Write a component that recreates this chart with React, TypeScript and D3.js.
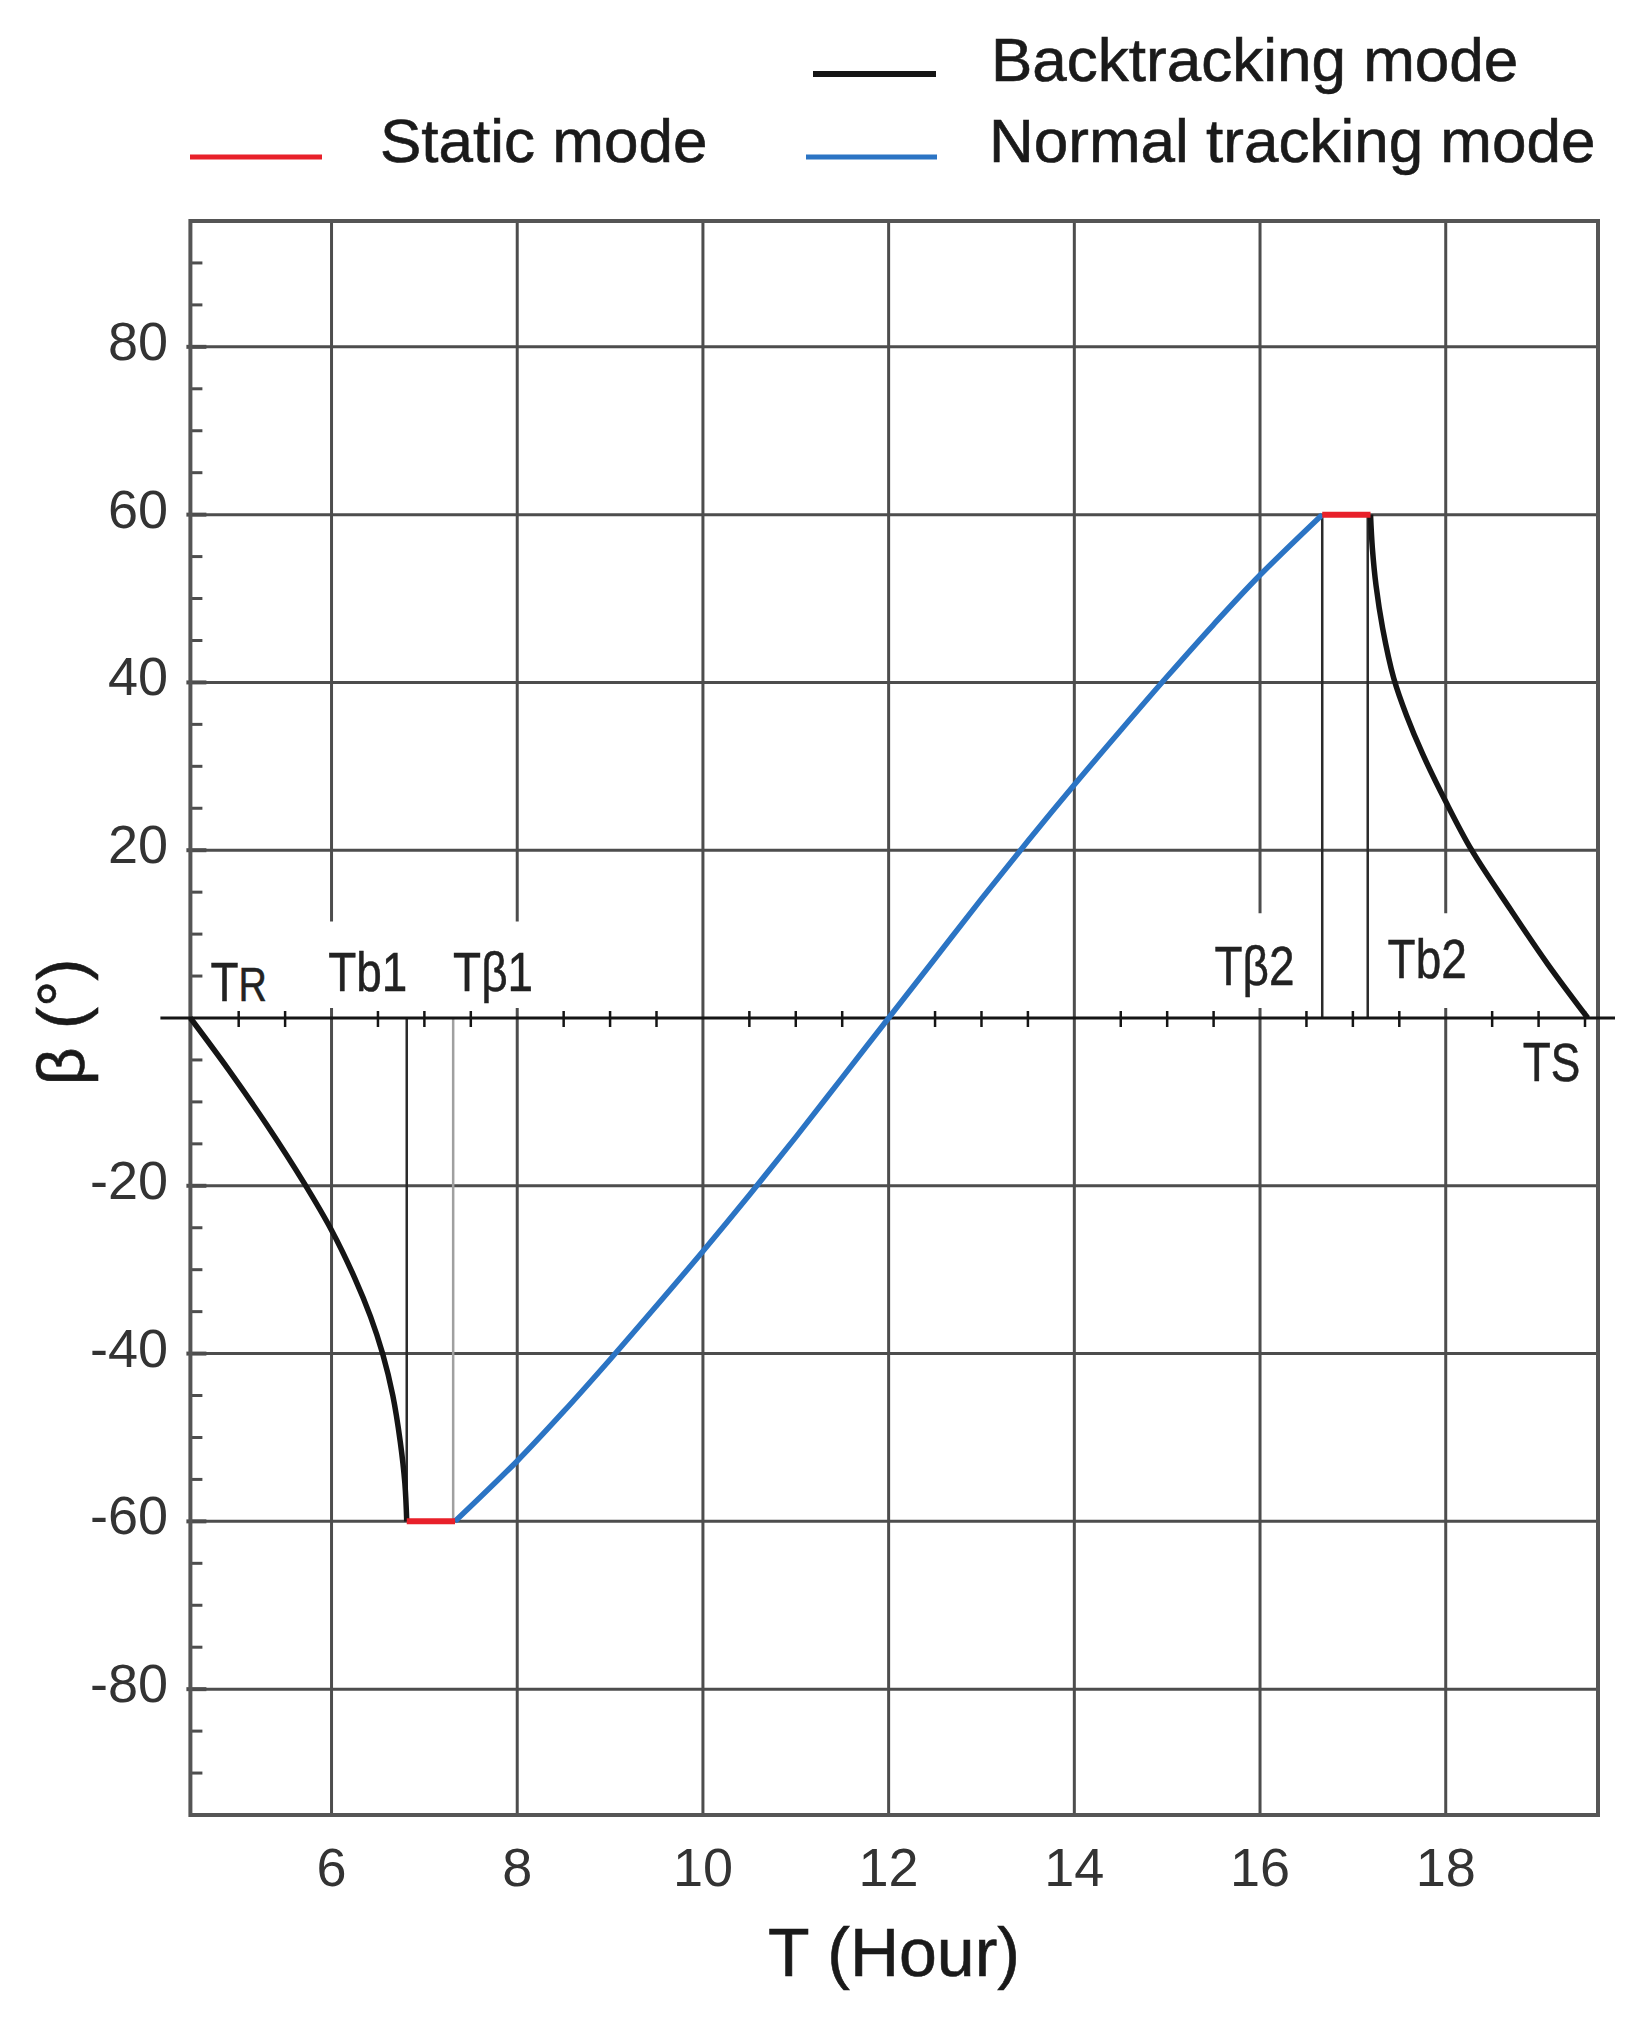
import * as d3 from 'd3';
import React from 'react';

// hour / beta values
const hourTicks = [6, 8, 10, 12, 14, 16, 18];
const betaTicks = [-80, -60, -40, -20, 20, 40, 60, 80];

const backtrackMorning: [number, number][] = [
  [4.48, 0], [4.9, -6.3], [5.3, -12.7], [5.7, -19.6], [6.0, -25.3], [6.25, -31],
  [6.42, -35.6], [6.55, -40], [6.66, -45], [6.74, -50.5], [6.79, -55.5], [6.81, -60],
];
const backtrackEvening: [number, number][] = [
  [17.19, 60], [17.21, 56], [17.25, 51.5], [17.32, 46.5], [17.44, 40.5], [17.58, 36],
  [17.75, 31.5], [18.0, 25.8], [18.28, 20], [18.7, 12.9], [19.1, 6.4], [19.53, 0],
];
const normalTracking: [number, number][] = [
  [7.33, -60], [8, -52.8], [8.5, -46.9], [9, -40.7], [9.5, -34.3], [10, -27.8],
  [10.5, -21.1], [11, -14.2], [11.5, -7.1], [12, 0], [12.5, 7.1], [13, 14.2],
  [13.5, 21.1], [14, 27.8], [14.5, 34.3], [15, 40.7], [15.5, 46.9], [16, 52.8], [16.67, 60],
];
const staticMorning: [number, number][] = [[6.81, -60], [7.33, -60]];
const staticEvening: [number, number][] = [[16.67, 60], [17.19, 60]];

// mode switching instants (vertical marker lines from the axis to the curve)
const switchTimes = [6.81, 7.31, 16.67, 17.16];
const switchBeta = [-60, -60, 60, 60];

const markerLabels = [
  { main: 'T', sub: 'R', t: 5.0, beta: 2.0 },
  { main: 'Tb1', sub: '', t: 6.39, beta: 3.2 },
  { main: 'Tβ1', sub: '', t: 7.74, beta: 3.2 },
  { main: 'Tβ2', sub: '', t: 15.94, beta: 3.9 },
  { main: 'Tb2', sub: '', t: 17.8, beta: 4.8 },
  { main: 'T', sub: 'S', t: 19.14, beta: -7.5 },
];

const legendItems = ['Backtracking mode', 'Static mode', 'Normal tracking mode'];

const FONT = "'Liberation Sans', Arial, sans-serif";
const GRID = '#4d4d4d';
const BLACK = '#151515';
const BLUE = '#2b74c4';
const RED = '#e8202a';

export default function App() {
  const W = 1640;
  const H = 2019;
  const left = 190.4, right = 1598, top = 221, bottom = 1815;

  const x = d3.scaleLinear().domain([4.48, 19.64]).range([left, right]);
  const y = d3.scaleLinear().domain([-95, 95]).range([bottom, top]);

  const line = d3
    .line<[number, number]>()
    .x(d => x(d[0]))
    .y(d => y(d[1]))
    .curve(d3.curveCatmullRom.alpha(0.5));
  const straight = d3
    .line<[number, number]>()
    .x(d => x(d[0]))
    .y(d => y(d[1]));

  const minorX = d3.range(5, 19.51, 0.5).filter(h => h % 2 !== 0);
  const minorY = d3.range(-90, 90.1, 5).filter(v => v % 20 !== 0);

  // gridlines at 6, 8, 16, 18 leave a gap for the marker labels
  const gapTop: Record<number, number> = { 6: 11.5, 8: 11.5, 16: 12.5, 18: 12.5 };

  return (
    <svg
      width={W}
      height={H}
      style={{ position: 'absolute', left: 0, top: 0, background: '#fff', display: 'block' }}
    >
      <rect width={W} height={H} fill="#fff" />

      {/* legend */}
      <g fontFamily={FONT} fontSize={62} fill="#1a1a1a" stroke="#1a1a1a" strokeWidth={0.6}>
        <line x1={813} x2={936} y1={74} y2={74} stroke={BLACK} strokeWidth={6} />
        <text x={991} y={81}>{legendItems[0]}</text>
        <line x1={190} x2={322} y1={157} y2={157} stroke={RED} strokeWidth={5} />
        <text x={380} y={162}>{legendItems[1]}</text>
        <line x1={806} x2={937} y1={157} y2={157} stroke={BLUE} strokeWidth={5} />
        <text x={989} y={162}>{legendItems[2]}</text>
      </g>

      {/* horizontal gridlines */}
      {betaTicks.map(v => (
        <g key={'h' + v}>
          <line x1={left} x2={right} y1={y(v)} y2={y(v)} stroke={GRID} strokeWidth={3} />
          <line x1={left - 4} x2={left + 16} y1={y(v)} y2={y(v)} stroke={GRID} strokeWidth={4} />
        </g>
      ))}

      {/* vertical gridlines */}
      {hourTicks.map(h =>
        gapTop[h] !== undefined ? (
          <g key={'v' + h}>
            <line x1={x(h)} x2={x(h)} y1={top} y2={y(gapTop[h])} stroke={GRID} strokeWidth={3} />
            <line x1={x(h)} x2={x(h)} y1={y(1.2)} y2={bottom} stroke={GRID} strokeWidth={3} />
          </g>
        ) : (
          <line key={'v' + h} x1={x(h)} x2={x(h)} y1={top} y2={bottom} stroke={GRID} strokeWidth={3} />
        )
      )}

      {/* minor ticks */}
      {minorY.map(v => (
        <line key={'my' + v} x1={left} x2={left + 12} y1={y(v)} y2={y(v)} stroke={GRID} strokeWidth={3} />
      ))}
      {minorX.map(h => (
        <line key={'mx' + h} x1={x(h)} x2={x(h)} y1={y(0) - 7} y2={y(0) + 9} stroke={BLACK} strokeWidth={2.5} />
      ))}

      {/* mode switching lines */}
      {switchTimes.map((t, i) => (
        <line
          key={'s' + i}
          x1={x(t)}
          x2={x(t)}
          y1={y(0)}
          y2={y(switchBeta[i])}
          stroke={i === 1 ? '#a0a0a0' : '#2a2a2a'}
          strokeWidth={2.5}
        />
      ))}

      {/* frame */}
      <rect x={left} y={top} width={right - left} height={bottom - top} fill="none" stroke="#555" strokeWidth={4} />

      {/* zero axis */}
      <line x1={left - 30} x2={right + 17} y1={y(0)} y2={y(0)} stroke={BLACK} strokeWidth={3} />

      {/* curves */}
      <path d={line(backtrackMorning) ?? ''} fill="none" stroke={BLACK} strokeWidth={5.5} />
      <path d={line(backtrackEvening) ?? ''} fill="none" stroke={BLACK} strokeWidth={5.5} />
      <path d={line(normalTracking) ?? ''} fill="none" stroke={BLUE} strokeWidth={5.5} />
      <path d={straight(staticMorning) ?? ''} fill="none" stroke={RED} strokeWidth={6} />
      <path d={straight(staticEvening) ?? ''} fill="none" stroke={RED} strokeWidth={6} />

      {/* tick labels */}
      <g fontFamily={FONT} fontSize={54} fill="#333">
        {betaTicks.map(v => (
          <text key={'yl' + v} x={168} y={y(v) + 13} textAnchor="end">
            {v < 0 ? '-' + Math.abs(v) : String(v)}
          </text>
        ))}
        {hourTicks.map(h => (
          <text key={'xl' + h} x={x(h)} y={1886} textAnchor="middle">
            {h}
          </text>
        ))}
      </g>

      {/* marker labels */}
      <g fontFamily={FONT} fontSize={56} fill="#222" stroke="#222" strokeWidth={0.5}>
        {markerLabels.map((m, i) => (
          <text
            key={'m' + i}
            textAnchor="middle"
            transform={`translate(${x(m.t)},${y(m.beta)}) scale(0.82,1)`}
          >
            {m.main}
            {m.sub && <tspan fontSize={m.sub === 'R' ? 48 : 54}>{m.sub}</tspan>}
          </text>
        ))}
      </g>

      {/* axis titles */}
      <text x={894} y={1976} textAnchor="middle" fontFamily={FONT} fontSize={68} fill="#1a1a1a" stroke="#1a1a1a" strokeWidth={0.6}>
        T (Hour)
      </text>
      <text
        transform="translate(84,1022) rotate(-90)"
        textAnchor="middle"
        fontFamily={FONT}
        fontSize={66}
        fill="#1a1a1a"
        stroke="#1a1a1a"
        strokeWidth={0.6}
      >
        β (°)
      </text>
    </svg>
  );
}
